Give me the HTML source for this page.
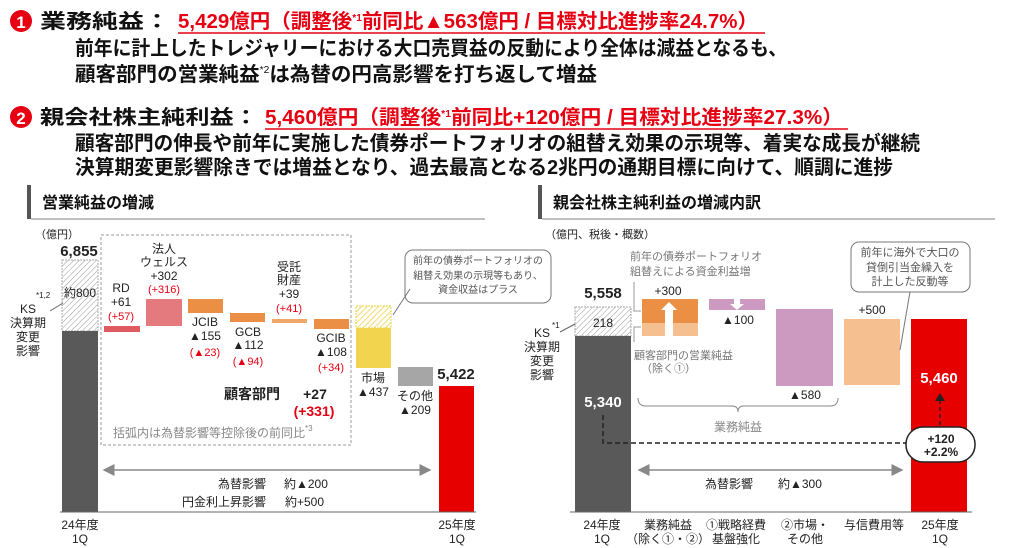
<!DOCTYPE html>
<html><head><meta charset="utf-8"><style>
html,body{margin:0;padding:0;background:#fff;}
svg{display:block;font-family:"Liberation Sans","Noto Sans CJK JP",sans-serif;}
</style></head><body>
<svg width="1013" height="548" viewBox="0 0 1013 548" xmlns="http://www.w3.org/2000/svg">
<defs>
<pattern id="h" patternUnits="userSpaceOnUse" width="4" height="4" patternTransform="rotate(45)"><rect width="4" height="4" fill="#fff"/><line x1="0" y1="0" x2="0" y2="4" stroke="#999" stroke-width="1"/></pattern>
<pattern id="hy" patternUnits="userSpaceOnUse" width="4" height="4" patternTransform="rotate(45)"><rect width="4" height="4" fill="#fff"/><line x1="0" y1="0" x2="0" y2="4" stroke="#f0d040" stroke-width="1.5"/></pattern>
<marker id="ah" markerWidth="8" markerHeight="8" refX="7" refY="4" orient="auto-start-reverse"><path d="M0,0 L8,4 L0,8 z" fill="#888"/></marker>
</defs>
<!-- headline -->
<circle cx="21" cy="21" r="11" fill="#e60012"/><text x="21" y="28" font-size="17" font-weight="bold" fill="#fff" text-anchor="middle">1</text>
<text x="40" y="28" font-size="20" font-weight="bold" fill="#111" textLength="130" lengthAdjust="spacingAndGlyphs">業務純益：</text>
<text x="178" y="28" font-size="20" font-weight="bold" fill="#e60012" textLength="580" lengthAdjust="spacingAndGlyphs">5,429億円（調整後<tspan font-size="10" dy="-7">*1</tspan><tspan dy="7">前同比▲563億円 / 目標対比進捗率24.7%）</tspan></text>
<line x1="178" y1="33" x2="765" y2="33" stroke="#e60012" stroke-width="1.5"/>
<text x="75" y="55" font-size="20" font-weight="bold" fill="#111" textLength="712" lengthAdjust="spacingAndGlyphs">前年に計上したトレジャリーにおける大口売買益の反動により全体は減益となるも、</text>
<text x="75" y="81" font-size="20" font-weight="bold" fill="#111" textLength="522" lengthAdjust="spacingAndGlyphs">顧客部門の営業純益<tspan font-size="10" dy="-8" font-weight="normal">*2</tspan><tspan dy="8">は為替の円高影響を打ち返して増益</tspan></text>
<circle cx="21" cy="117" r="11" fill="#e60012"/><text x="21" y="124" font-size="17" font-weight="bold" fill="#fff" text-anchor="middle">2</text>
<text x="40" y="124" font-size="20" font-weight="bold" fill="#111" textLength="218" lengthAdjust="spacingAndGlyphs">親会社株主純利益：</text>
<text x="265" y="124" font-size="20" font-weight="bold" fill="#e60012" textLength="578" lengthAdjust="spacingAndGlyphs">5,460億円（調整後<tspan font-size="10" dy="-7">*1</tspan><tspan dy="7">前同比+120億円 / 目標対比進捗率27.3%）</tspan></text>
<line x1="265" y1="129" x2="848" y2="129" stroke="#e60012" stroke-width="1.5"/>
<text x="75" y="150" font-size="20" font-weight="bold" fill="#111" textLength="845" lengthAdjust="spacingAndGlyphs">顧客部門の伸長や前年に実施した債券ポートフォリオの組替え効果の示現等、着実な成長が継続</text>
<text x="75" y="174" font-size="20" font-weight="bold" fill="#111" textLength="818" lengthAdjust="spacingAndGlyphs">決算期変更影響除きでは増益となり、過去最高となる2兆円の通期目標に向けて、順調に進捗</text>
<!-- section headers -->
<rect x="27" y="185" width="4" height="34" fill="#555"/>
<text x="42" y="208" font-size="16" font-weight="bold" fill="#111">営業純益の増減</text>
<line x1="31" y1="219" x2="485" y2="219" stroke="#aaa" stroke-width="1.5"/>
<rect x="538" y="185" width="4" height="34" fill="#555"/>
<text x="553" y="208" font-size="16" font-weight="bold" fill="#111">親会社株主純利益の増減内訳</text>
<line x1="542" y1="219" x2="995" y2="219" stroke="#aaa" stroke-width="1.5"/>

<!-- LEFT CHART -->
<g font-size="12" fill="#222">
<text x="35" y="238" font-size="11">（億円）</text>
<text x="79" y="256" font-size="15" font-weight="bold" text-anchor="middle">6,855</text>
<rect x="62" y="260" width="36" height="71" fill="url(#h)" stroke="#aaa" stroke-dasharray="2,1"/>
<rect x="62" y="331" width="36" height="181" fill="#595959"/>
<text x="80" y="297" text-anchor="middle">約800</text>
<text x="36" y="298" font-size="8">*1,2</text>
<line x1="50" y1="311" x2="63" y2="303" stroke="#666"/>
<text x="28" y="313" text-anchor="middle">KS</text>
<text x="28" y="327" text-anchor="middle">決算期</text>
<text x="28" y="341" text-anchor="middle">変更</text>
<text x="28" y="355" text-anchor="middle">影響</text>
<rect x="101" y="235" width="250" height="210" fill="none" stroke="#999" stroke-dasharray="3,2"/>
<rect x="104" y="326" width="36" height="6" fill="#e05a5f"/>
<text x="121" y="292" text-anchor="middle">RD</text><text x="121" y="306" text-anchor="middle">+61</text><text x="121" y="320" text-anchor="middle" fill="#e60012" font-size="11">(+57)</text>
<rect x="146" y="299" width="36" height="27" fill="#e57a7e"/>
<text x="164" y="253" text-anchor="middle">法人</text><text x="164" y="266" text-anchor="middle">ウェルス</text><text x="164" y="280" text-anchor="middle">+302</text><text x="164" y="293" text-anchor="middle" fill="#e60012" font-size="11">(+316)</text>
<rect x="188" y="299" width="35" height="14" fill="#eb8f45"/>
<text x="205" y="326" text-anchor="middle">JCIB</text><text x="205" y="340" text-anchor="middle">▲155</text><text x="205" y="356" text-anchor="middle" fill="#e60012" font-size="11">(▲23)</text>
<rect x="230" y="313" width="35" height="9" fill="#eb8f45"/>
<text x="248" y="336" text-anchor="middle">GCB</text><text x="248" y="349" text-anchor="middle">▲112</text><text x="248" y="365" text-anchor="middle" fill="#e60012" font-size="11">(▲94)</text>
<rect x="272" y="319" width="35" height="4" fill="#f0a868"/>
<text x="289" y="271" text-anchor="middle">受託</text><text x="289" y="284" text-anchor="middle">財産</text><text x="289" y="298" text-anchor="middle">+39</text><text x="289" y="312" text-anchor="middle" fill="#e60012" font-size="11">(+41)</text>
<rect x="314" y="319" width="35" height="10" fill="#eb8f45"/>
<text x="331" y="342" text-anchor="middle">GCIB</text><text x="331" y="356" text-anchor="middle">▲108</text><text x="331" y="371" text-anchor="middle" fill="#e60012" font-size="11">(+34)</text>
<text x="224" y="399" font-size="14" font-weight="bold">顧客部門</text>
<text x="315" y="399" font-size="14" font-weight="bold" text-anchor="middle">+27</text>
<text x="314" y="416" font-size="14" font-weight="bold" fill="#e60012" text-anchor="middle">(+331)</text>
<text x="113" y="437" font-size="12" fill="#888">括弧内は為替影響等控除後の前同比<tspan font-size="8" dy="-6">*3</tspan></text>
<rect x="356" y="306" width="35" height="22" fill="url(#hy)" stroke="#f0d040" stroke-dasharray="2,1"/>
<rect x="356" y="328" width="35" height="40" fill="#f2d44e"/>
<text x="373" y="382" text-anchor="middle">市場</text><text x="373" y="396" text-anchor="middle">▲437</text>
<rect x="398" y="367" width="35" height="19" fill="#a6a6a6"/>
<text x="415" y="400" text-anchor="middle">その他</text><text x="415" y="414" text-anchor="middle">▲209</text>
<text x="456" y="379" font-size="15" font-weight="bold" text-anchor="middle">5,422</text>
<rect x="439" y="386" width="35" height="126" fill="#e60000"/>
<rect x="405" y="250" width="146" height="53" rx="8" fill="#fff" stroke="#777"/>
<line x1="393" y1="315" x2="410" y2="289" stroke="#777"/>
<g font-size="10" fill="#555" text-anchor="middle"><text x="478" y="264">前年の債券ポートフォリオの</text><text x="478" y="279">組替え効果の示現等もあり、</text><text x="478" y="293">資金収益はプラス</text></g>
<line x1="104" y1="470" x2="430" y2="470" stroke="#888" stroke-width="1.5" marker-start="url(#ah)" marker-end="url(#ah)"/>
<text x="266" y="488" text-anchor="end">為替影響</text><text x="284" y="488">約▲200</text>
<text x="266" y="506" text-anchor="end">円金利上昇影響</text><text x="285" y="506">約+500</text>
<line x1="60" y1="512" x2="476" y2="512" stroke="#666"/>
<text x="80" y="529" text-anchor="middle">24年度</text><text x="80" y="543" text-anchor="middle">1Q</text>
<text x="457" y="529" text-anchor="middle">25年度</text><text x="457" y="543" text-anchor="middle">1Q</text>
</g>

<!-- RIGHT CHART -->
<g font-size="12" fill="#222">
<text x="545" y="238" font-size="11">（億円、税後・概数）</text>
<text x="603" y="298" font-size="15" font-weight="bold" text-anchor="middle">5,558</text>
<rect x="575" y="307" width="56" height="29" fill="url(#h)" stroke="#aaa" stroke-dasharray="2,1"/>
<rect x="575" y="336" width="56" height="176" fill="#595959"/>
<text x="603" y="327" text-anchor="middle">218</text>
<text x="552" y="328" font-size="8">*1</text>
<line x1="560" y1="332" x2="575" y2="324" stroke="#666"/>
<text x="542" y="337" text-anchor="middle">KS</text>
<text x="542" y="351" text-anchor="middle">決算期</text>
<text x="542" y="365" text-anchor="middle">変更</text>
<text x="542" y="379" text-anchor="middle">影響</text>
<text x="603" y="407" font-size="15" font-weight="bold" fill="#fff" text-anchor="middle">5,340</text>
<polyline points="603,415 603,443 907,443" fill="none" stroke="#222" stroke-width="1.5" stroke-dasharray="5,3"/>
<rect x="642" y="299" width="56" height="24" fill="#eb8f45"/>
<rect x="642" y="323" width="56" height="13" fill="#f5bf8f"/>
<polygon points="665,336 665,310 661,310 669,302 677,310 673,310 673,336" fill="#fff"/>
<text x="668" y="295" text-anchor="middle">+300</text>
<g font-size="11" fill="#777"><text x="630" y="260">前年の債券ポートフォリオ</text><text x="630" y="275">組替えによる資金利益増</text>
<text x="634" y="359">顧客部門の営業純益</text><text x="641" y="372">（除く①）</text></g>
<polyline points="634,282 634,311 641,311" fill="none" stroke="#999"/>
<polyline points="641,327 634,327 634,342" fill="none" stroke="#999"/>
<rect x="709" y="299" width="56" height="11" fill="#cc99c0"/>
<polygon points="734,299 740,299 740,304 744,304 737,310 730,304 734,304" fill="#fff"/>
<text x="738" y="324" text-anchor="middle">▲100</text>
<rect x="776" y="309" width="57" height="77" fill="#cc99c0"/>
<text x="805" y="399" text-anchor="middle">▲580</text>
<path d="M638,398 Q638,406 646,406 L732,406 Q738,406 738,412 Q738,406 744,406 L830,406 Q838,406 838,398" fill="none" stroke="#888"/>
<text x="738" y="431" text-anchor="middle" fill="#888">業務純益</text>
<rect x="844" y="319" width="56" height="66" fill="#f5bf8f"/>
<text x="872" y="314" text-anchor="middle">+500</text>
<rect x="851" y="242" width="119" height="50" rx="8" fill="#fff" stroke="#777"/>
<line x1="910" y1="292" x2="900" y2="350" stroke="#777"/>
<g font-size="11" fill="#555" text-anchor="middle"><text x="910" y="256">前年に海外で大口の</text><text x="910" y="271">貸倒引当金繰入を</text><text x="910" y="285">計上した反動等</text></g>
<rect x="911" y="319" width="56" height="193" fill="#e60000"/>
<text x="939" y="383" font-size="15" font-weight="bold" fill="#fff" text-anchor="middle">5,460</text>
<line x1="940" y1="425" x2="940" y2="400" stroke="#222" stroke-width="1.5" stroke-dasharray="4,3"/>
<polygon points="935,401 945,401 940,393" fill="#222"/>
<rect x="906" y="427" width="69" height="35" rx="17" fill="#fff" stroke="#222" stroke-width="1.5"/>
<text x="941" y="443" font-weight="bold" text-anchor="middle">+120</text>
<text x="941" y="456" font-weight="bold" text-anchor="middle">+2.2%</text>
<line x1="639" y1="470" x2="902" y2="470" stroke="#888" stroke-width="1.5" marker-start="url(#ah)" marker-end="url(#ah)"/>
<text x="705" y="488">為替影響</text><text x="778" y="488">約▲300</text>
<line x1="570" y1="512" x2="972" y2="512" stroke="#666"/>
<g text-anchor="middle">
<text x="602" y="529">24年度</text><text x="602" y="543">1Q</text>
<text x="668" y="529">業務純益</text><text x="668" y="543">（除く①・②）</text>
<text x="736" y="529">①戦略経費</text><text x="736" y="543">基盤強化</text>
<text x="805" y="529">②市場・</text><text x="805" y="543">その他</text>
<text x="874" y="529">与信費用等</text>
<text x="940" y="529">25年度</text><text x="940" y="543">1Q</text>
</g>
</g>
</svg>
</body></html>
